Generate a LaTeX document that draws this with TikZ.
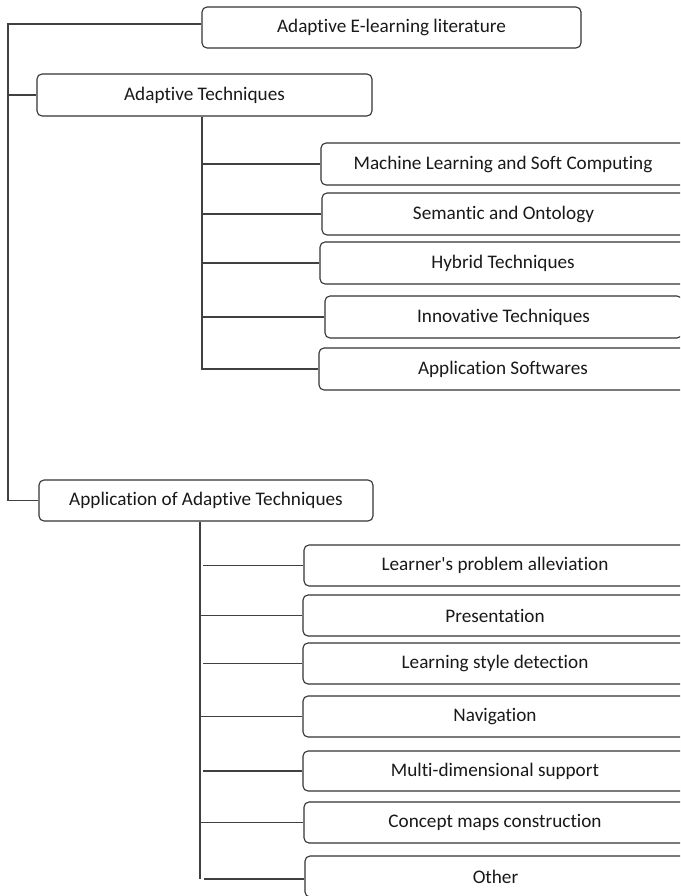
\documentclass[tikz,border=0pt]{standalone}
\usepackage{fontspec}
\newfontfamily\boxfont{Carlito}[Ligatures=NoCommon]
\begin{document}
\begin{tikzpicture}[x=1pt,y=-1pt,
  box/.style={draw=black!80, line width=1.1pt, rounded corners=5pt, fill=white,
    inner sep=0pt, font=\boxfont\fontsize{19.2}{22}\selectfont, text=black!90},
  link/.style={draw=black!75, line width=1.1pt}]
\useasboundingbox (0,0) rectangle (680,896);
\clip (0,0) rectangle (680,896);

% root and first-level headings
\node[box, minimum width=379pt, minimum height=41pt] (root) at (391.5,27.5) {Adaptive E-learning literature};
\node[box, minimum width=335pt, minimum height=42pt] (at) at (204.5,95) {Adaptive Techniques};
\node[box, minimum width=334pt, minimum height=41pt] (aat) at (206,500.5) {Application of Adaptive Techniques};

% adaptive techniques
\node[box, minimum width=364pt, minimum height=42pt] (ml)  at (503,164)   {Machine Learning and Soft Computing};
\node[box, minimum width=363pt, minimum height=42pt] (sem) at (503.5,214) {Semantic and Ontology};
\node[box, minimum width=366pt, minimum height=42pt] (hyb) at (503,263)   {Hybrid Techniques};
\node[box, minimum width=357pt, minimum height=42pt] (inn) at (503.5,317) {Innovative Techniques};
\node[box, minimum width=368pt, minimum height=42pt] (asw) at (503,369)   {Application Softwares};

% applications
\node[box, minimum width=382pt, minimum height=41pt] (lpa) at (495,565.5) {Learner's problem alleviation};
\node[box, minimum width=384pt, minimum height=41pt] (pre) at (495,615.5) {Presentation};
\node[box, minimum width=384pt, minimum height=41pt] (lsd) at (495,663.5) {Learning style detection};
\node[box, minimum width=384pt, minimum height=41pt] (nav) at (495,716.5) {Navigation};
\node[box, minimum width=384pt, minimum height=40pt] (mds) at (495,771)   {Multi-dimensional support};
\node[box, minimum width=382pt, minimum height=41pt] (cmc) at (495,822.5) {Concept maps construction};
\node[box, minimum width=381pt, minimum height=41pt] (oth) at (495.5,876.5) {Other};

% main trunk
\coordinate (t0) at (8,24);
\draw[link] (root.west |- t0) -- (t0) -- (t0 |- aat.west) -- (aat.west);
\draw[link] (t0 |- at.west) -- (at.west);

% branch of adaptive techniques
\coordinate (a1) at (202,369);
\draw[link] (a1 |- at.south) -- (a1);
\foreach \n in {ml,sem,hyb,inn}
  \draw[link] (a1 |- \n.west) -- (\n.west);
\draw[link] ([xshift=-1.5pt]a1) -- (asw.west);

% branch of applications
\coordinate (b1) at (200,879);
\draw[link] (b1 |- aat.south) -- (b1);
\foreach \n in {pre,nav,cmc}
  \draw[link] (b1 |- \n.west) -- (\n.west);
\foreach \n in {lpa,lsd,mds}
  \draw[link] ([xshift=3pt]b1 |- \n.west) -- (\n.west);
\draw[link] ([xshift=4pt]b1) -- (b1 -| oth.west);
\end{tikzpicture}
\end{document}
